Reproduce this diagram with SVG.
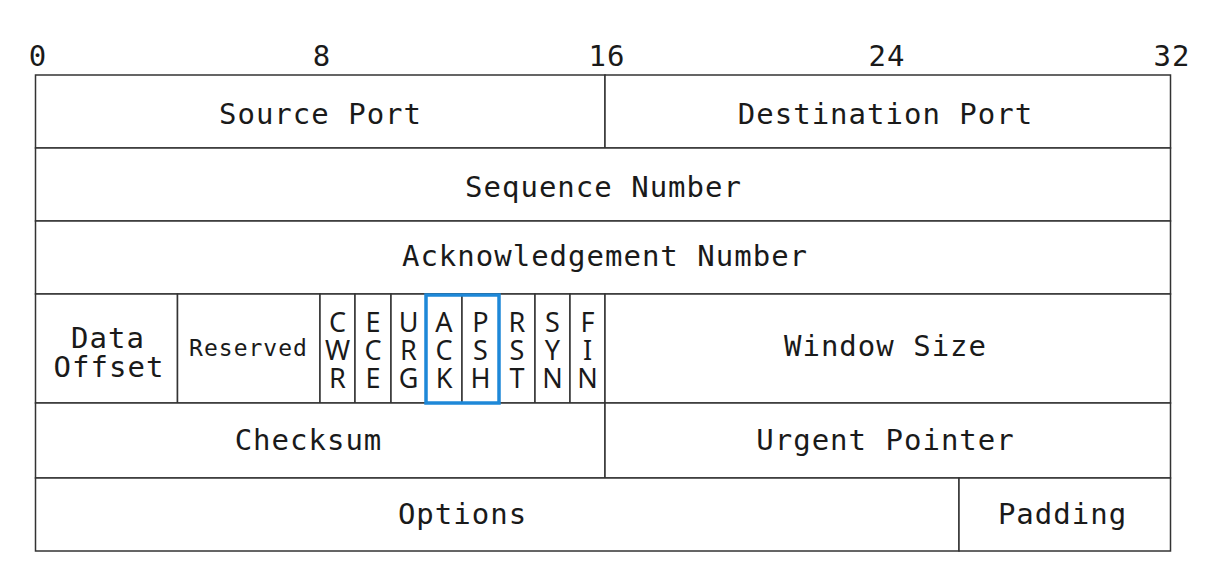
<svg xmlns="http://www.w3.org/2000/svg" width="1205" height="570" viewBox="0 0 1205 570">
<style>
.c{fill:#fff;stroke:#333;stroke-width:1.5}
.t{font-family:"DejaVu Sans Mono","Liberation Mono",monospace;font-size:29px;letter-spacing:1px;fill:#1a1a1a;text-anchor:middle}
.s{font-family:"DejaVu Sans Mono","Liberation Mono",monospace;font-size:23px;letter-spacing:1px;fill:#1a1a1a;text-anchor:middle}
.f{font-family:"Noto Sans","DejaVu Sans",sans-serif;font-size:27px;fill:#1a1a1a;text-anchor:middle}
.h{fill:none;stroke:#1e88d8;stroke-width:3.5}
</style>
<rect width="1205" height="570" fill="#fff"/>
<g id="scale">
<text class="t" x="38" y="66">0</text>
<text class="t" x="322" y="66">8</text>
<text class="t" x="607" y="66">16</text>
<text class="t" x="887" y="66">24</text>
<text class="t" x="1172" y="66">32</text>
</g>
<g id="source-port"><rect class="c" x="35.5" y="75" width="569.5" height="73"/><text class="t" x="320.5" y="124">Source Port</text></g>
<g id="destination-port"><rect class="c" x="605" y="75" width="565.5" height="73"/><text class="t" x="885.5" y="124">Destination Port</text></g>
<g id="sequence-number"><rect class="c" x="35.5" y="148" width="1135" height="73"/><text class="t" x="603.5" y="197">Sequence Number</text></g>
<g id="ack-number"><rect class="c" x="35.5" y="221" width="1135" height="73"/><text class="t" x="605" y="266">Acknowledgement Number</text></g>
<g id="data-offset"><rect class="c" x="35.5" y="294" width="142" height="109"/><text class="t" x="108" y="348">Data</text><text class="t" x="109" y="377">Offset</text></g>
<g id="reserved"><rect class="c" x="177.5" y="294" width="142.5" height="109"/><text class="s" x="248.5" y="356">Reserved</text></g>
<g id="cwr"><rect class="c" x="320" y="294" width="35" height="109"/><text class="f" x="337.5" y="332">C</text><text class="f" x="337.5" y="360">W</text><text class="f" x="337.5" y="388">R</text></g>
<g id="ece"><rect class="c" x="355" y="294" width="36" height="109"/><text class="f" x="373" y="332">E</text><text class="f" x="373" y="360">C</text><text class="f" x="373" y="388">E</text></g>
<g id="urg"><rect class="c" x="391" y="294" width="35" height="109"/><text class="f" x="408.5" y="332">U</text><text class="f" x="408.5" y="360">R</text><text class="f" x="408.5" y="388">G</text></g>
<g id="ack"><rect class="c" x="426" y="294" width="36" height="109"/><text class="f" x="444" y="332">A</text><text class="f" x="444" y="360">C</text><text class="f" x="444" y="388">K</text></g>
<g id="psh"><rect class="c" x="462" y="294" width="37" height="109"/><text class="f" x="480.5" y="332">P</text><text class="f" x="480.5" y="360">S</text><text class="f" x="480.5" y="388">H</text></g>
<g id="rst"><rect class="c" x="499" y="294" width="36" height="109"/><text class="f" x="517" y="332">R</text><text class="f" x="517" y="360">S</text><text class="f" x="517" y="388">T</text></g>
<g id="syn"><rect class="c" x="535" y="294" width="35" height="109"/><text class="f" x="552.5" y="332">S</text><text class="f" x="552.5" y="360">Y</text><text class="f" x="552.5" y="388">N</text></g>
<g id="fin"><rect class="c" x="570" y="294" width="35" height="109"/><text class="f" x="587.5" y="332">F</text><text class="f" x="587.5" y="360">I</text><text class="f" x="587.5" y="388">N</text></g>
<g id="window-size"><rect class="c" x="605" y="294" width="565.5" height="109"/><text class="t" x="885.5" y="356">Window Size</text></g>
<g id="checksum"><rect class="c" x="35.5" y="403" width="569.5" height="75"/><text class="t" x="308.5" y="450">Checksum</text></g>
<g id="urgent-pointer"><rect class="c" x="605" y="403" width="565.5" height="75"/><text class="t" x="885.5" y="450">Urgent Pointer</text></g>
<g id="options"><rect class="c" x="35.5" y="478" width="923.5" height="73"/><text class="t" x="462.5" y="524">Options</text></g>
<g id="padding"><rect class="c" x="959" y="478" width="211.5" height="73"/><text class="t" x="1062.5" y="524">Padding</text></g>
<g id="highlight"><rect class="h" x="426" y="295" width="73" height="108"/></g>
</svg>
